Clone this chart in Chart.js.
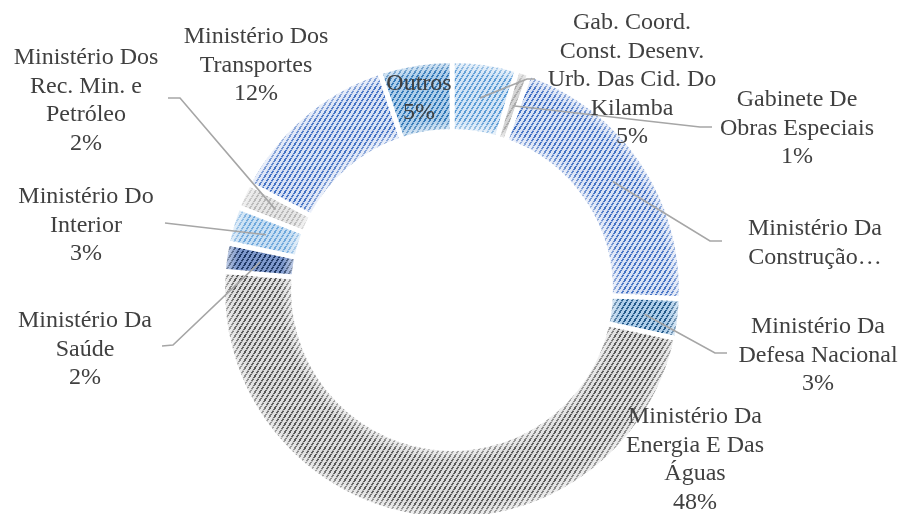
<!DOCTYPE html>
<html>
<head>
<meta charset="utf-8">
<script src="https://cdn.jsdelivr.net/npm/chart.js@4.4.1/dist/chart.umd.min.js"></script>
<style>
  html, body { margin: 0; padding: 0; background: #ffffff; overflow: hidden; }
  #wrap { width: 902px; height: 580px; }
</style>
</head>
<body>
<div id="wrap"><canvas id="c" width="902" height="580"></canvas></div>
<script>
// ---- data ----
const categories = [
  "Gab. Coord.\nConst. Desenv.\nUrb. Das Cid. Do\nKilamba",
  "Gabinete De\nObras Especiais",
  "Ministério Da\nConstrução…",
  "Ministério Da\nDefesa Nacional",
  "Ministério Da\nEnergia E Das\nÁguas",
  "Ministério Da\nSaúde",
  "Ministério Do\nInterior",
  "Ministério Dos\nRec. Min. e\nPetróleo",
  "Ministério Dos\nTransportes",
  "Outros"
];
const values = [4.6, 0.9, 20.1, 2.8, 47.9, 2.0, 2.6, 1.8, 12.2, 5.1];

// ---- styles / layout ----
const baseColors   = ["#d3e5f6", "#d4d4d4", "#d9e2f5", "#b0cfea", "#dedede", "#7f99cc", "#c8dff3", "#e6e6e6", "#d9e2f5", "#b0cfea"];
const stripeColors = ["#5b9bd5", "#ababab", "#4472c4", "#22598a", "#595959", "#1f3864", "#6fa8dc", "#b8b8b8", "#4472c4", "#2e75b6"];
const labelPos = [[632,29],[797,106],[815,235],[818,333],[695,423],[85,327],[86,203],[86,64],[256,43],[419,90]];
const leaderPts = [
  [[527,79],[535,79]],
  [[700,127],[712,127]],
  [[710,241],[722,241]],
  [[715,353],[727,353]],
  null,
  [[173,345],[162,346]],
  [[165,223]],
  [[180,98],[168,98]],
  null,
  null
];

function makePattern(base, stripe) {
  const w = 5, h = 8;
  const c = document.createElement('canvas');
  c.width = w; c.height = h;
  const g = c.getContext('2d');
  g.fillStyle = base;
  g.fillRect(0, 0, w, h);
  g.fillStyle = stripe;
  for (let y = 0; y < h; y++) {
    const x = Math.round((h - 0.5 - y) * w / h - 1);
    g.globalAlpha = (y % 3 === 2) ? 0.35 : 1;
    for (let k = 0; k < 2; k++) {
      const xx = ((x + k) % w + w) % w;
      g.fillRect(xx, y, 1, 1);
    }
  }
  g.globalAlpha = 1;
  const ctx = document.getElementById('c').getContext('2d');
  return ctx.createPattern(c, 'repeat');
}
const patterns = baseColors.map((b, i) => makePattern(b, stripeColors[i]));

const total = values.reduce((a, b) => a + b, 0);

const labelPlugin = {
  id: 'labelPlugin',
  afterDatasetsDraw(chart) {
    const ctx = chart.ctx;
    const meta = chart.getDatasetMeta(0);
    const arc0 = meta.data[0];
    const cx = arc0.x, cy = arc0.y;
    const R = arc0.outerRadius, r = arc0.innerRadius;
    // soft edge glow
    ctx.save();
    const grad = ctx.createRadialGradient(cx, cy, r, cx, cy, R);
    grad.addColorStop(0, 'rgba(255,255,255,0.6)');
    grad.addColorStop(0.18, 'rgba(255,255,255,0)');
    grad.addColorStop(0.82, 'rgba(255,255,255,0)');
    grad.addColorStop(1, 'rgba(255,255,255,0.6)');
    ctx.beginPath();
    ctx.arc(cx, cy, R, 0, Math.PI * 2);
    ctx.arc(cx, cy, r, 0, Math.PI * 2, true);
    ctx.fillStyle = grad;
    ctx.fill('evenodd');
    ctx.restore();

    // leader lines
    ctx.save();
    ctx.strokeStyle = '#a6a6a6';
    ctx.lineWidth = 1.6;
    meta.data.forEach((arc, i) => {
      const pts = leaderPts[i];
      if (!pts) return;
      const mid = (arc.startAngle + arc.endAngle) / 2;
      const rm = (arc.innerRadius + arc.outerRadius) / 2;
      const sx = cx + Math.cos(mid) * rm;
      const sy = cy + Math.sin(mid) * rm;
      ctx.beginPath();
      ctx.moveTo(sx, sy);
      pts.forEach(p => ctx.lineTo(p[0], p[1]));
      ctx.stroke();
    });
    ctx.restore();

    // labels
    ctx.save();
    ctx.font = '24px "Liberation Serif", "Times New Roman", serif';
    ctx.fillStyle = '#404040';
    ctx.textAlign = 'center';
    ctx.textBaseline = 'alphabetic';
    const lh = 28.5;
    categories.forEach((name, i) => {
      const lines = name.split('\n');
      if (!name.endsWith('…')) lines.push(Math.round(values[i] / total * 100) + '%');
      const [x, y] = labelPos[i];
      lines.forEach((ln, k) => ctx.fillText(ln, x, y + k * lh));
    });
    ctx.restore();
  }
};

new Chart(document.getElementById('c'), {
  type: 'doughnut',
  data: {
    labels: categories.map(s => s.replace(/\n/g, ' ')),
    datasets: [{
      data: values,
      backgroundColor: patterns,
      borderColor: '#ffffff',
      borderWidth: 5,
      hoverOffset: 0
    }]
  },
  options: {
    responsive: false,
    animation: false,
    radius: 229.5,
    cutout: '69.06%',
    rotation: 0,
    layout: { padding: { left: 2, right: 0, top: 0, bottom: 0 } },
    plugins: {
      legend: { display: false },
      tooltip: { enabled: false }
    }
  },
  plugins: [labelPlugin]
});
</script>
</body>
</html>
